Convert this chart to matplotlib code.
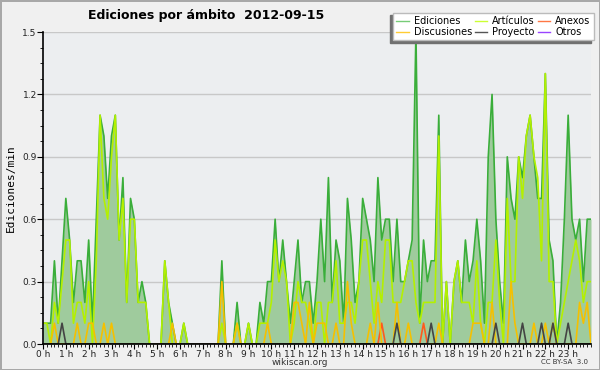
import numpy as np
import matplotlib
matplotlib.use('Agg')
import matplotlib.pyplot as plt
from matplotlib.ticker import MultipleLocator

# edits per minute, one value every 10 minutes (0h .. 24h)
ediciones = [0.1, 0.1, 0.1, 0.4, 0.1, 0.4, 0.7, 0.5, 0.2, 0.4, 0.4, 0.2, 0.5, 0.1, 0.6, 1.1, 1.0, 0.7, 1.0, 1.1,
             0.5, 0.8, 0.2, 0.7, 0.6, 0.2, 0.3, 0.2, 0.0, 0.0, 0.0, 0.0, 0.4, 0.2, 0.1, 0.0, 0.0, 0.1, 0.0, 0.0,
             0.0, 0.0, 0.0, 0.0, 0.0, 0.0, 0.0, 0.4, 0.0, 0.0, 0.0, 0.2, 0.0, 0.0, 0.1, 0.0, 0.0, 0.2, 0.1, 0.3,
             0.3, 0.6, 0.3, 0.5, 0.3, 0.1, 0.3, 0.5, 0.2, 0.3, 0.3, 0.1, 0.3, 0.6, 0.3, 0.8, 0.2, 0.5, 0.4, 0.1,
             0.7, 0.5, 0.2, 0.3, 0.7, 0.6, 0.5, 0.3, 0.8, 0.5, 0.6, 0.6, 0.3, 0.6, 0.3, 0.3, 0.4, 0.5, 1.5, 0.1,
             0.5, 0.3, 0.4, 0.4, 1.1, 0.0, 0.3, 0.0, 0.3, 0.4, 0.2, 0.5, 0.3, 0.4, 0.6, 0.4, 0.1, 0.9, 1.2, 0.6,
             0.3, 0.1, 0.9, 0.7, 0.6, 0.9, 0.8, 1.0, 1.1, 0.9, 0.7, 0.7, 1.3, 0.5, 0.4, 0.0, 0.2, 0.6, 1.1, 0.6,
             0.5, 0.6, 0.3, 0.6, 0.6]
articulos = [0.1, 0.1, 0.0, 0.2, 0.1, 0.3, 0.5, 0.5, 0.1, 0.2, 0.2, 0.1, 0.3, 0.0, 0.4, 1.1, 0.7, 0.6, 0.9, 1.1,
             0.5, 0.7, 0.2, 0.6, 0.6, 0.2, 0.2, 0.2, 0.0, 0.0, 0.0, 0.0, 0.4, 0.2, 0.0, 0.0, 0.0, 0.1, 0.0, 0.0,
             0.0, 0.0, 0.0, 0.0, 0.0, 0.0, 0.0, 0.1, 0.0, 0.0, 0.0, 0.1, 0.0, 0.0, 0.1, 0.0, 0.0, 0.1, 0.1, 0.1,
             0.2, 0.5, 0.3, 0.4, 0.3, 0.0, 0.1, 0.3, 0.2, 0.2, 0.1, 0.0, 0.2, 0.2, 0.0, 0.2, 0.2, 0.4, 0.1, 0.1,
             0.2, 0.2, 0.1, 0.3, 0.5, 0.5, 0.3, 0.1, 0.3, 0.2, 0.5, 0.5, 0.2, 0.2, 0.2, 0.3, 0.4, 0.4, 0.2, 0.1,
             0.2, 0.2, 0.2, 0.2, 1.0, 0.0, 0.3, 0.0, 0.3, 0.4, 0.2, 0.2, 0.2, 0.1, 0.4, 0.1, 0.0, 0.2, 0.2, 0.5,
             0.2, 0.0, 0.7, 0.3, 0.3, 0.9, 0.7, 1.0, 1.1, 0.9, 0.8, 0.4, 1.3, 0.3, 0.3, 0.0, 0.1, 0.2, 0.3, 0.4,
             0.5, 0.4, 0.2, 0.3, 0.3]
discusiones = [0.0, 0.0, 0.0, 0.1, 0.0, 0.0, 0.0, 0.0, 0.0, 0.1, 0.0, 0.0, 0.1, 0.1, 0.0, 0.0, 0.1, 0.0, 0.1, 0.0,
               0.0, 0.0, 0.0, 0.0, 0.0, 0.0, 0.0, 0.0, 0.0, 0.0, 0.0, 0.0, 0.0, 0.0, 0.1, 0.0, 0.0, 0.0, 0.0, 0.0,
               0.0, 0.0, 0.0, 0.0, 0.0, 0.0, 0.0, 0.3, 0.0, 0.0, 0.0, 0.1, 0.0, 0.0, 0.0, 0.0, 0.0, 0.0, 0.0, 0.1,
               0.0, 0.0, 0.0, 0.0, 0.0, 0.0, 0.2, 0.2, 0.1, 0.0, 0.2, 0.0, 0.1, 0.1, 0.1, 0.0, 0.0, 0.1, 0.0, 0.0,
               0.3, 0.1, 0.0, 0.0, 0.0, 0.0, 0.1, 0.0, 0.2, 0.0, 0.0, 0.0, 0.0, 0.2, 0.0, 0.0, 0.1, 0.0, 0.0, 0.0,
               0.0, 0.0, 0.0, 0.0, 0.1, 0.0, 0.0, 0.0, 0.0, 0.0, 0.0, 0.0, 0.0, 0.1, 0.1, 0.1, 0.0, 0.0, 0.2, 0.0,
               0.0, 0.0, 0.0, 0.3, 0.1, 0.0, 0.0, 0.0, 0.0, 0.1, 0.0, 0.0, 0.1, 0.0, 0.1, 0.0, 0.0, 0.0, 0.0, 0.0,
               0.0, 0.2, 0.1, 0.2, 0.0]
proyecto_idx = [5, 93, 102, 119, 126, 131, 134, 138]
anexos_idx = [89, 100]

hour_labels = ['%d h' % h for h in range(24)]

n = len(ediciones)
x = np.arange(n) / 6.0
proyecto = np.zeros(n)
proyecto[proyecto_idx] = 0.1
anexos = np.zeros(n)
anexos[anexos_idx] = 0.1
otros = np.zeros(n)

fig = plt.figure(figsize=(6, 3.7), dpi=100, facecolor='#f0f0f0',
                 edgecolor='#a8a8a8', linewidth=2)
ax = fig.add_axes([43/600, 26/370, 548/600, 312/370])
ax.set_facecolor('#eceef0')

ax.fill_between(x, ediciones, color='#9fcb9d', lw=0)
ax.plot(x, ediciones, color='#3aae3a', lw=1.2, label='Ediciones')
ax.plot(x, articulos, color='#b4f000', lw=1.2, label='Artículos')
ax.plot(x, anexos, color='#ff5a1e', lw=1.2, label='Anexos')
ax.plot(x, discusiones, color='#f5c000', lw=1.2, label='Discusiones')
ax.plot(x, proyecto, color='#444444', lw=1.2, label='Proyecto')
ax.plot(x, otros, color='#9040f0', lw=1.2, alpha=0, label='Otros')

ax.set_xlim(0, 24)
ax.set_ylim(0, 1.5)
ax.set_xticks(range(24))
ax.set_xticklabels(hour_labels)
ax.xaxis.set_minor_locator(MultipleLocator(1/6))
ax.set_yticks([0, 0.3, 0.6, 0.9, 1.2, 1.5])
ax.set_yticklabels(['0.0', '0.3', '0.6', '0.9', '1.2', '1.5'])
ax.yaxis.set_minor_locator(MultipleLocator(0.075))
ax.tick_params(axis='both', which='major', labelsize=6.5, pad=0.5,
               labelcolor='#222222')
ax.tick_params(axis='x', which='major', direction='out', length=3.5)
ax.tick_params(axis='x', which='minor', direction='out', length=2.5)
ax.tick_params(axis='y', which='major', direction='out', length=4)
ax.tick_params(axis='y', which='minor', direction='out', length=2.5)
ax.grid(axis='y', color='#c8c8c8', lw=1)
ax.set_axisbelow(True)
for s in ['top', 'right']:
    ax.spines[s].set_visible(False)
ax.spines['left'].set_linewidth(1.2)
ax.spines['bottom'].set_linewidth(1.2)
ax.set_ylabel('Ediciones/min', fontsize=8, family='DejaVu Sans Mono', labelpad=5)

h, l = ax.get_legend_handles_labels()
order = [0, 3, 1, 4, 2, 5]
leg_colors = ['#77cc77', '#ffcc33', '#ccff33', '#555555', '#ff7744', '#9944ff']
leg = fig.legend([h[i] for i in order], [l[i] for i in order], ncol=3,
                 loc='upper right', bbox_to_anchor=(0.99, 0.966),
                 fontsize=7, frameon=True, fancybox=False,
                 shadow={'color': '#707070', 'alpha': 1, 'ox': -2, 'oy': -2},
                 handlelength=1.3, handletextpad=0.5, columnspacing=0.3,
                 labelspacing=0.1, borderpad=0.35, borderaxespad=0)
leg.get_frame().set_edgecolor('#bbbbbb')
for line, c in zip(leg.get_lines(), leg_colors):
    line.set_color(c)
    line.set_alpha(1)
    line.set_linewidth(1)

fig.text(0.343, 0.958, 'Ediciones por ámbito  2012-09-15', ha='center', va='center',
         fontsize=9, fontweight='bold')
fig.text(0.5, 0.021, 'wikiscan.org', ha='center', va='center', fontsize=6.5, color='#333333')
fig.text(0.98, 0.021, 'CC BY-SA  3.0', ha='right', va='center', fontsize=5, color='#333333')

fig.savefig('out.png', dpi=100, facecolor=fig.get_facecolor(), edgecolor=fig.get_edgecolor())
